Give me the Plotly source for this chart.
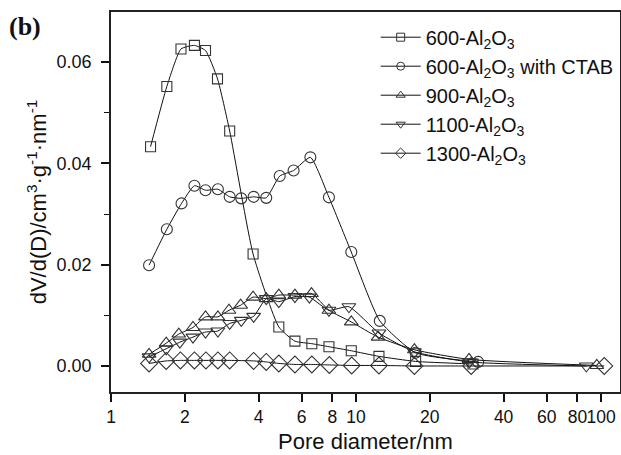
import plotly.graph_objects as go

# ---- data ----
x_600 = [1.45, 1.69, 1.93, 2.19, 2.43, 2.72, 3.05, 3.80, 4.84, 5.63, 6.60, 7.75, 9.56, 12.4, 17.5, 30.0]
y_600 = [0.0433, 0.0552, 0.0626, 0.0633, 0.0623, 0.0567, 0.0464, 0.0221, 0.0077, 0.0049, 0.0044, 0.0038, 0.0030, 0.0019, 0.0009, 0.0004]

x_ctab = [1.43, 1.69, 1.94, 2.19, 2.43, 2.73, 3.05, 3.40, 3.82, 4.30, 4.88, 5.56, 6.51, 7.75, 9.56, 12.5, 17.5, 31.5]
y_ctab = [0.0199, 0.0270, 0.0321, 0.0356, 0.0347, 0.0349, 0.0334, 0.0331, 0.0334, 0.0332, 0.0375, 0.0386, 0.0412, 0.0333, 0.0225, 0.0089, 0.0026, 0.0008]

x_900 = [1.43, 1.68, 1.89, 2.16, 2.43, 2.73, 3.03, 3.38, 3.80, 4.30, 4.84, 5.63, 6.58, 7.75, 9.56, 12.3, 17.3, 28.9, 96.0]
y_900 = [0.0023, 0.0045, 0.0063, 0.0076, 0.0097, 0.0097, 0.0110, 0.0120, 0.0136, 0.0133, 0.0140, 0.0140, 0.0143, 0.0110, 0.0087, 0.0057, 0.0032, 0.0013, 0.0001]

x_1100 = [1.43, 1.68, 1.91, 2.16, 2.43, 2.73, 3.05, 3.40, 3.82, 4.30, 4.84, 5.63, 6.45, 7.75, 9.35, 12.4, 17.3, 29.0, 87.0]
y_1100 = [0.0018, 0.0034, 0.0047, 0.0057, 0.0067, 0.0069, 0.0084, 0.0090, 0.0098, 0.0133, 0.0127, 0.0137, 0.0136, 0.0110, 0.0117, 0.0065, 0.0028, 0.0008, 0.0000]

x_1300 = [1.43, 1.68, 1.92, 2.19, 2.44, 2.73, 3.05, 3.82, 4.30, 4.84, 5.63, 6.60, 7.78, 9.60, 12.4, 17.3, 29.5, 103.0]
y_1300 = [0.0005, 0.0010, 0.0011, 0.0011, 0.0011, 0.0011, 0.0011, 0.0010, 0.0008, 0.0005, 0.0003, 0.0003, 0.0002, 0.0001, 0.0001, 0.0000, 0.0000, 0.0000]

names = ["600-Al<sub>2</sub>O<sub>3</sub>",
         "600-Al<sub>2</sub>O<sub>3</sub> with CTAB",
         "900-Al<sub>2</sub>O<sub>3</sub>",
         "1100-Al<sub>2</sub>O<sub>3</sub>",
         "1300-Al<sub>2</sub>O<sub>3</sub>"]

x_ticks = [1, 2, 4, 6, 8, 10, 20, 40, 60, 80, 100]
x_ticktext = ["1", "2", "4", "6", "8", "10", "20", "40", "60", "80", "100"]
y_ticks = [0.00, 0.02, 0.04, 0.06]

series = [
    (x_600, y_600, "square-open", 10),
    (x_ctab, y_ctab, "circle-open", 11),
    (x_900, y_900, "triangle-up-open", 12),
    (x_1100, y_1100, "triangle-down-open", 12),
    (x_1300, y_1300, "diamond-open", 13),
]

fig = go.Figure()
for (xs, ys, sym, sz), nm in zip(series, names):
    fig.add_trace(go.Scatter(
        x=xs, y=ys, mode="lines+markers", name=nm, showlegend=False,
        line=dict(color="#111111", width=1, shape="spline", smoothing=0.5),
        marker=dict(symbol=sym, size=sz, color="#333333", line=dict(width=1.1)),
    ))
# legend entries (smaller markers as in the original legend)
for (xs, ys, sym, sz), nm in zip(series, names):
    fig.add_trace(go.Scatter(
        x=[None], y=[None], mode="lines+markers", name=nm, showlegend=True,
        line=dict(color="#111111", width=1),
        marker=dict(symbol=sym, size=8, color="#333333", line=dict(width=1)),
    ))

fig.update_layout(
    width=621, height=455,
    margin=dict(l=111, r=1, t=12, b=63, autoexpand=False),
    paper_bgcolor="white", plot_bgcolor="white",
    font=dict(family="Liberation Sans, Arial, sans-serif", size=18, color="#111111"),
    showlegend=True,
    legend=dict(x=0.52, y=0.985, xanchor="left", yanchor="top",
                bgcolor="rgba(0,0,0,0)", font=dict(size=20),
                tracegroupgap=0, itemwidth=40),
    xaxis=dict(type="log", range=[0, 2.077], tickvals=x_ticks, ticktext=x_ticktext,
               tickangle=0, tickfont=dict(size=17.5),
               ticks="outside", ticklen=8, tickwidth=1.5, tickcolor="#111111",
               showline=True, linewidth=1.6, linecolor="#222222", mirror=True,
               showgrid=False, zeroline=False, automargin=False,
               title=dict(text="Pore diameter/nm", font=dict(size=22), standoff=8)),
    yaxis=dict(range=[-0.00514, 0.0699], tickvals=y_ticks, tickformat=".2f",
               ticks="outside", ticklen=8, tickwidth=1.5, tickcolor="#111111",
               minor=dict(dtick=0.01, ticks="outside", ticklen=5, tickwidth=1.2, tickcolor="#111111"),
               showline=True, linewidth=1.6, linecolor="#222222", mirror=True,
               showgrid=False, zeroline=False, ticklabelstandoff=6, automargin=False,
               title=dict(text="dV/d(D)/cm<sup>3</sup>·g<sup>-1</sup>·nm<sup>-1</sup>",
                          font=dict(size=22), standoff=4)),
    annotations=[dict(text="<b>(b)</b>", xref="paper", yref="paper", x=-0.205, y=1.005,
                      xanchor="left", yanchor="top", showarrow=False,
                      font=dict(family="Liberation Serif, Times New Roman, serif", size=26, color="#111111"))],
)

fig.write_html("out.html")
